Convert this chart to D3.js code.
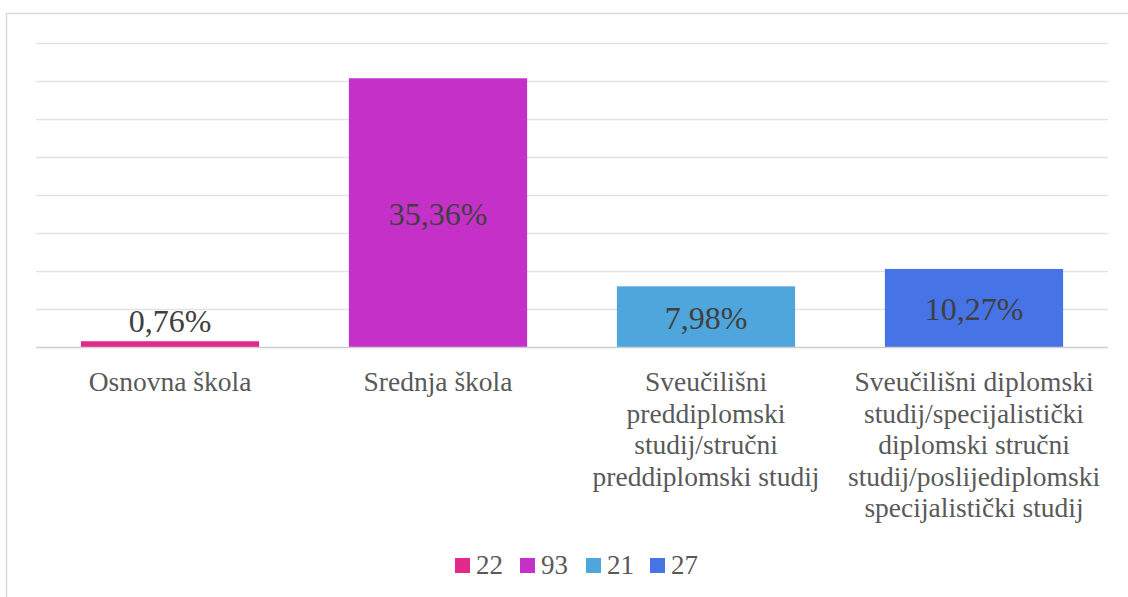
<!DOCTYPE html>
<html>
<head>
<meta charset="utf-8">
<script src="https://cdn.jsdelivr.net/npm/d3@7"></script>
<style>
  body { margin: 0; background: #fff; }
</style>
</head>
<body>
<svg id="chart"></svg>
<script>
// data
var categories = [
    ["Osnovna škola"],
    ["Srednja škola"],
    ["Sveučilišni", "preddiplomski", "studij/stručni", "preddiplomski studij"],
    ["Sveučilišni diplomski", "studij/specijalistički", "diplomski stručni", "studij/poslijediplomski", "specijalistički studij"]
];
var seriesNames = ["22", "93", "21", "27"];
var values = [0.76, 35.36, 7.98, 10.27];
var labels = ["0,76%", "35,36%", "7,98%", "10,27%"];
var colors = ["#e3298c", "#c530c9", "#4fa6dc", "#4673e6"];

var font = "Liberation Serif";

var width = 1128, height = 597;
var svg = d3.select("#chart").attr("width", width).attr("height", height);

// frame
svg.append("path")
    .attr("d", "M6.5," + height + "V13.5H" + width)
    .attr("fill", "none")
    .attr("stroke", "#d9d9d9")
    .attr("stroke-width", 1.5);

var plot = {left: 36, right: 1108, top: 43, bottom: 347};

var x = d3.scaleBand()
    .domain(d3.range(categories.length))
    .range([plot.left, plot.right])
    .paddingInner(0.335)
    .paddingOuter(0.1675);

var y = d3.scaleLinear().domain([0, 40]).range([plot.bottom, plot.top]);

// gridlines
svg.append("g")
    .selectAll("line")
    .data(d3.range(5, 41, 5))
    .enter().append("line")
    .attr("x1", plot.left).attr("x2", plot.right)
    .attr("y1", function(d) { return Math.round(y(d)) + 0.5; })
    .attr("y2", function(d) { return Math.round(y(d)) + 0.5; })
    .attr("stroke", "#e3e3e3")
    .attr("stroke-width", 1.5);

// bars
svg.append("g")
    .selectAll("rect")
    .data(values)
    .enter().append("rect")
    .attr("x", function(d, i) { return x(i); })
    .attr("width", x.bandwidth())
    .attr("y", function(d) { return y(d); })
    .attr("height", function(d) { return y(0) - y(d); })
    .attr("fill", function(d, i) { return colors[i]; });

// baseline
svg.append("line")
    .attr("x1", plot.left).attr("x2", plot.right)
    .attr("y1", plot.bottom + 0.5).attr("y2", plot.bottom + 0.5)
    .attr("stroke", "#cfcfcf")
    .attr("stroke-width", 1.5);

// data labels (centred in bar, above it if the bar is too short)
svg.append("g")
    .selectAll("text")
    .data(values)
    .enter().append("text")
    .attr("x", function(d, i) { return x(i) + x.bandwidth() / 2; })
    .attr("y", function(d) {
        var h = y(0) - y(d);
        if (h < 30) return y(d) - 9.5;
        return (y(d) + y(0)) / 2 + 12.5;
    })
    .attr("text-anchor", "middle")
    .attr("font-family", font)
    .attr("font-size", "32px")
    .attr("fill", "#404040")
    .text(function(d, i) { return labels[i]; });

// category labels
var cat = svg.append("g")
    .selectAll("text")
    .data(categories)
    .enter().append("text")
    .attr("text-anchor", "middle")
    .attr("font-family", font)
    .attr("font-size", "27.5px")
    .attr("fill", "#595959")
    .attr("x", function(d, i) { return x(i) + x.bandwidth() / 2; })
    .attr("y", 391);

cat.selectAll("tspan")
    .data(function(d) { return d; })
    .enter().append("tspan")
    .attr("x", function() { return d3.select(this.parentNode).attr("x"); })
    .attr("dy", function(d, i) { return i === 0 ? 0 : 31.5; })
    .text(function(d) { return d; });

// legend
var legendX = [455, 520, 586, 650];
var legend = svg.append("g")
    .selectAll("g")
    .data(seriesNames)
    .enter().append("g")
    .attr("transform", function(d, i) { return "translate(" + legendX[i] + ",558)"; });

legend.append("rect")
    .attr("width", 15).attr("height", 15)
    .attr("fill", function(d, i) { return colors[i]; });

legend.append("text")
    .attr("x", 21).attr("y", 16)
    .attr("font-family", font)
    .attr("font-size", "27px")
    .attr("fill", "#595959")
    .text(function(d) { return d; });
</script>
</body>
</html>
